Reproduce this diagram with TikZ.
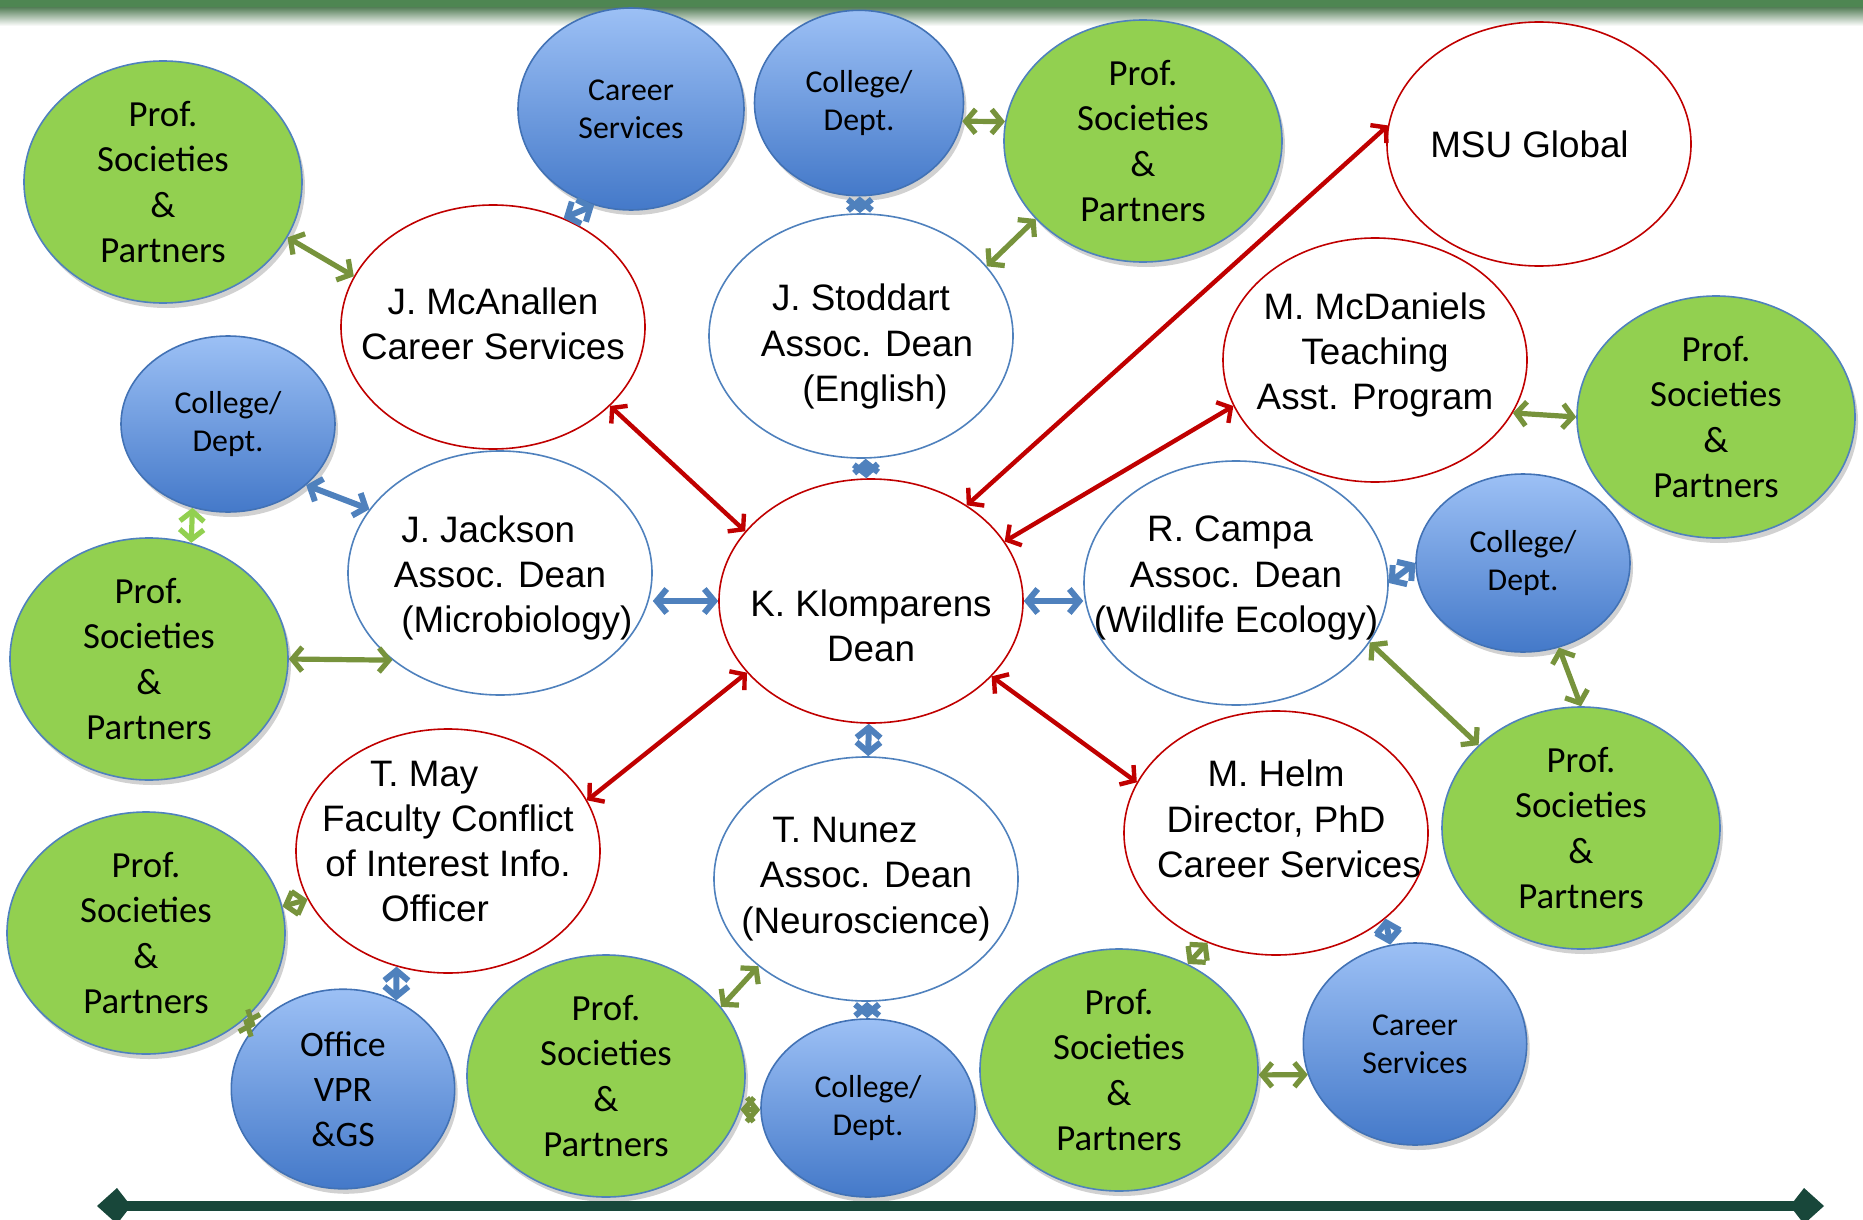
\documentclass[tikz,border=0pt]{standalone}
\usepackage{fontspec}
\setmainfont{Liberation Sans}
\newfontfamily\calibri{Carlito}
\usetikzlibrary{shapes.geometric, arrows.meta, shadows}

\definecolor{leadred}{HTML}{C00000}
\definecolor{assocblue}{HTML}{4F81BD}
\definecolor{linkgreen}{HTML}{77933C}
\definecolor{partgreen}{HTML}{92D050}
\definecolor{unittop}{HTML}{9CC0F5}
\definecolor{unitbot}{HTML}{4479C9}
\definecolor{unitline}{HTML}{4272B5}
\definecolor{bargreen}{HTML}{4E8652}
\definecolor{basedark}{HTML}{18473A}

\newcommand\nametext{\fontsize{18.4pt}{22.6pt}\selectfont}
\newcommand\partnertext{\calibri\fontsize{18.4pt}{22.6pt}\selectfont}
\newcommand\unittext{\calibri\fontsize{15.9pt}{19pt}\selectfont}
\newcommand\officetext{\calibri\fontsize{17.9pt}{22.5pt}\selectfont}

\tikzset{
  person/.style={ellipse, fill=white, line width=0.8pt, minimum width=152pt, minimum height=122pt,
    inner xsep=-25pt, inner ysep=-6pt, align=center, font=\nametext},
  lead/.style={person, draw=leadred},
  assoc/.style={person, draw=assocblue},
  partner/.style={ellipse, fill=partgreen, draw=assocblue, line width=0.8pt, minimum width=139pt,
    minimum height=121pt, inner sep=-4pt, align=center, font=\partnertext,
    drop shadow={shadow xshift=1.5pt, shadow yshift=-2.5pt, opacity=0.3, fill=black!60}},
  unit/.style={ellipse, top color=unittop, bottom color=unitbot, draw=unitline, line width=0.8pt,
    inner sep=0pt, align=center, font=\unittext,
    drop shadow={shadow xshift=1.5pt, shadow yshift=-2.5pt, opacity=0.3, fill=black!60}},
  link/.style={arrows={Straight Barb[length=5pt,width=12pt]-Straight Barb[length=5pt,width=12pt]}},
  redlink/.style={link, draw=leadred, line width=2.2pt},
  bluelink/.style={link, draw=assocblue, line width=3pt},
  greenlink/.style={link, draw=linkgreen, line width=2.6pt}
}

\begin{document}
\begin{tikzpicture}[x=0.5pt, y=-0.5pt]
\useasboundingbox (0,0) rectangle (1863,1220);

% top band
\fill[bargreen] (0,0) rectangle (1863,8);
\shade[top color=bargreen!70!gray, bottom color=white] (0,8) rectangle (1863,26);

% centre and staff
\node[lead] (klo) at (871,601) {\rule{0pt}{38pt}K. Klomparens\\Dean};
\node[lead] (mca) at (493,327) {J. McAnallen\\Career Services\rule[-3.6pt]{0pt}{3.6pt}};
\node[assoc] (stod) at (861,336) {\rule{0pt}{24pt}J. Stoddart\\\hspace*{6pt}Assoc. Dean\\\hspace*{14pt}(English)};
\node[lead] (msu) at (1539,144) {MSU Global\hspace*{9.5pt}};
\node[lead] (mcd) at (1375,360) {M. McDaniels\\Teaching\hspace*{19pt}\\Asst. Program\rule[-8.7pt]{0pt}{8.7pt}};
\node[assoc] (jack) at (500,573) {\rule{0pt}{18.2pt}J. Jackson\hspace*{11.7pt}\\Assoc. Dean\hspace*{-5.7pt}\\(Microbiology)\hspace*{-16.9pt}};
\node[assoc] (campa) at (1236,583) {R. Campa\hspace*{6pt}\\Assoc. Dean\\(Wildlife Ecology)\rule[-8.7pt]{0pt}{8.7pt}};
\node[lead] (may) at (448,851) {T. May\hspace*{23.8pt}\\Faculty Conflict\hspace*{-9.5pt}\\of Interest Info.\hspace*{-9.5pt}\\Officer\hspace*{13pt}\rule[-9.5pt]{0pt}{9.5pt}};
\node[assoc] (nun) at (866,879) {T. Nunez\hspace*{21pt}\\Assoc. Dean\hspace*{10.7pt}\\(Neuroscience)};
\node[lead] (helm) at (1276,833) {M. Helm\\Director, PhD\\Career Services\hspace*{-13pt}\rule[-14.3pt]{0pt}{14.3pt}};

% partners
\node[partner] (p1) at (163,182) {Prof.\\Societies\\\&\\Partners};
\node[partner] (p2) at (1143,141) {Prof.\\Societies\\\&\\Partners};
\node[partner] (p3) at (1716,417) {Prof.\\Societies\\\&\\Partners};
\node[partner] (p4) at (149,659) {Prof.\\Societies\\\&\\Partners};
\node[partner] (p5) at (1581,828) {Prof.\\Societies\\\&\\Partners};
\node[partner] (p6) at (146,933) {Prof.\\Societies\\\&\\Partners};
\node[partner] (p7) at (606,1076) {Prof.\\Societies\\\&\\Partners};
\node[partner] (p8) at (1119,1070) {Prof.\\Societies\\\&\\Partners};

% units
\node[unit, minimum width=113pt, minimum height=101pt] (cs1) at (631,109) {Career\\Services};
\node[unit, minimum width=104.5pt, minimum height=92.7pt] (col1) at (859,103) {College/\\Dept.};
\node[unit, minimum width=107pt, minimum height=88pt] (col2) at (228,424) {College/\\Dept.};
\node[unit, minimum width=107pt, minimum height=89pt] (col3) at (1523,563) {College/\\Dept.};
\node[unit, minimum width=107pt, minimum height=89pt] (col4) at (868,1108) {College/\\Dept.};
\node[unit, minimum width=111.7pt, minimum height=99.8pt, font=\officetext] (vpr) at (343,1089) {Office\\VPR\\\&GS};
\node[unit, minimum width=111.7pt, minimum height=101pt] (cs2) at (1415,1044) {Career\\Services};

% dean links
\draw[redlink] (mca.-34) -- (klo.151);
\draw[redlink] (msu.173) -- (klo.45);
\draw[redlink] (mcd.198) -- (klo.24);
\draw[redlink] (may.20) -- (klo.210);
\draw[redlink] (helm.160) -- (klo.-32);

\draw[bluelink] (jack.east |- klo.west) -- (klo.west);
\draw[bluelink] (klo.east) -- (klo.east -| campa.west);
\draw[bluelink] (col2.-38) -- (jack.154);
\draw[bluelink] (cs1.249) -- (mca.57);
\draw[bluelink] (col1) -- (stod);
\draw[bluelink] (stod) -- (klo);
\draw[bluelink] (klo) -- (nun);
\draw[bluelink] (campa.east) -- (col3.west);
\draw[bluelink] (may.246) -- (vpr.59);
\draw[bluelink] (nun) -- (col4);
\draw[bluelink] (helm.-38) -- (cs2.104);

% partner links
\draw[greenlink] (p1.-24) -- (mca.160);
\draw[greenlink] (col1.-10) -- (p2.172);
\draw[greenlink] (stod.29) -- (p2.216);
\draw[greenlink] (mcd.-21) -- (p3.west);
\draw[greenlink, draw=partgreen] (col2.247) -- (p4.70);
\draw[greenlink] (p4.east) -- (jack.219);
\draw[greenlink] (campa.-24) -- (p5.141);
\draw[greenlink] (col3.-67) -- (p5.north);
\draw[greenlink] (may.199) -- (p6.11);
\draw[greenlink] (p6.-42) -- (vpr.144);
\draw[greenlink] (nun.219) -- (p7.31);
\draw[greenlink] (p7.-14) -- (col4.181);
\draw[greenlink] (helm.238) -- (p8.57);
\draw[greenlink] (p8.-2) -- (cs2.196);

% base line
\coordinate (baseL) at (97,1206);
\coordinate (baseR) at (1824,1206);
\draw[basedark, line width=4.6pt, arrows={Kite[length=17pt,width=18pt,inset=7pt]-Kite[length=17pt,width=18pt,inset=7pt]}] (baseL) -- (baseR);
\end{tikzpicture}
\end{document}
